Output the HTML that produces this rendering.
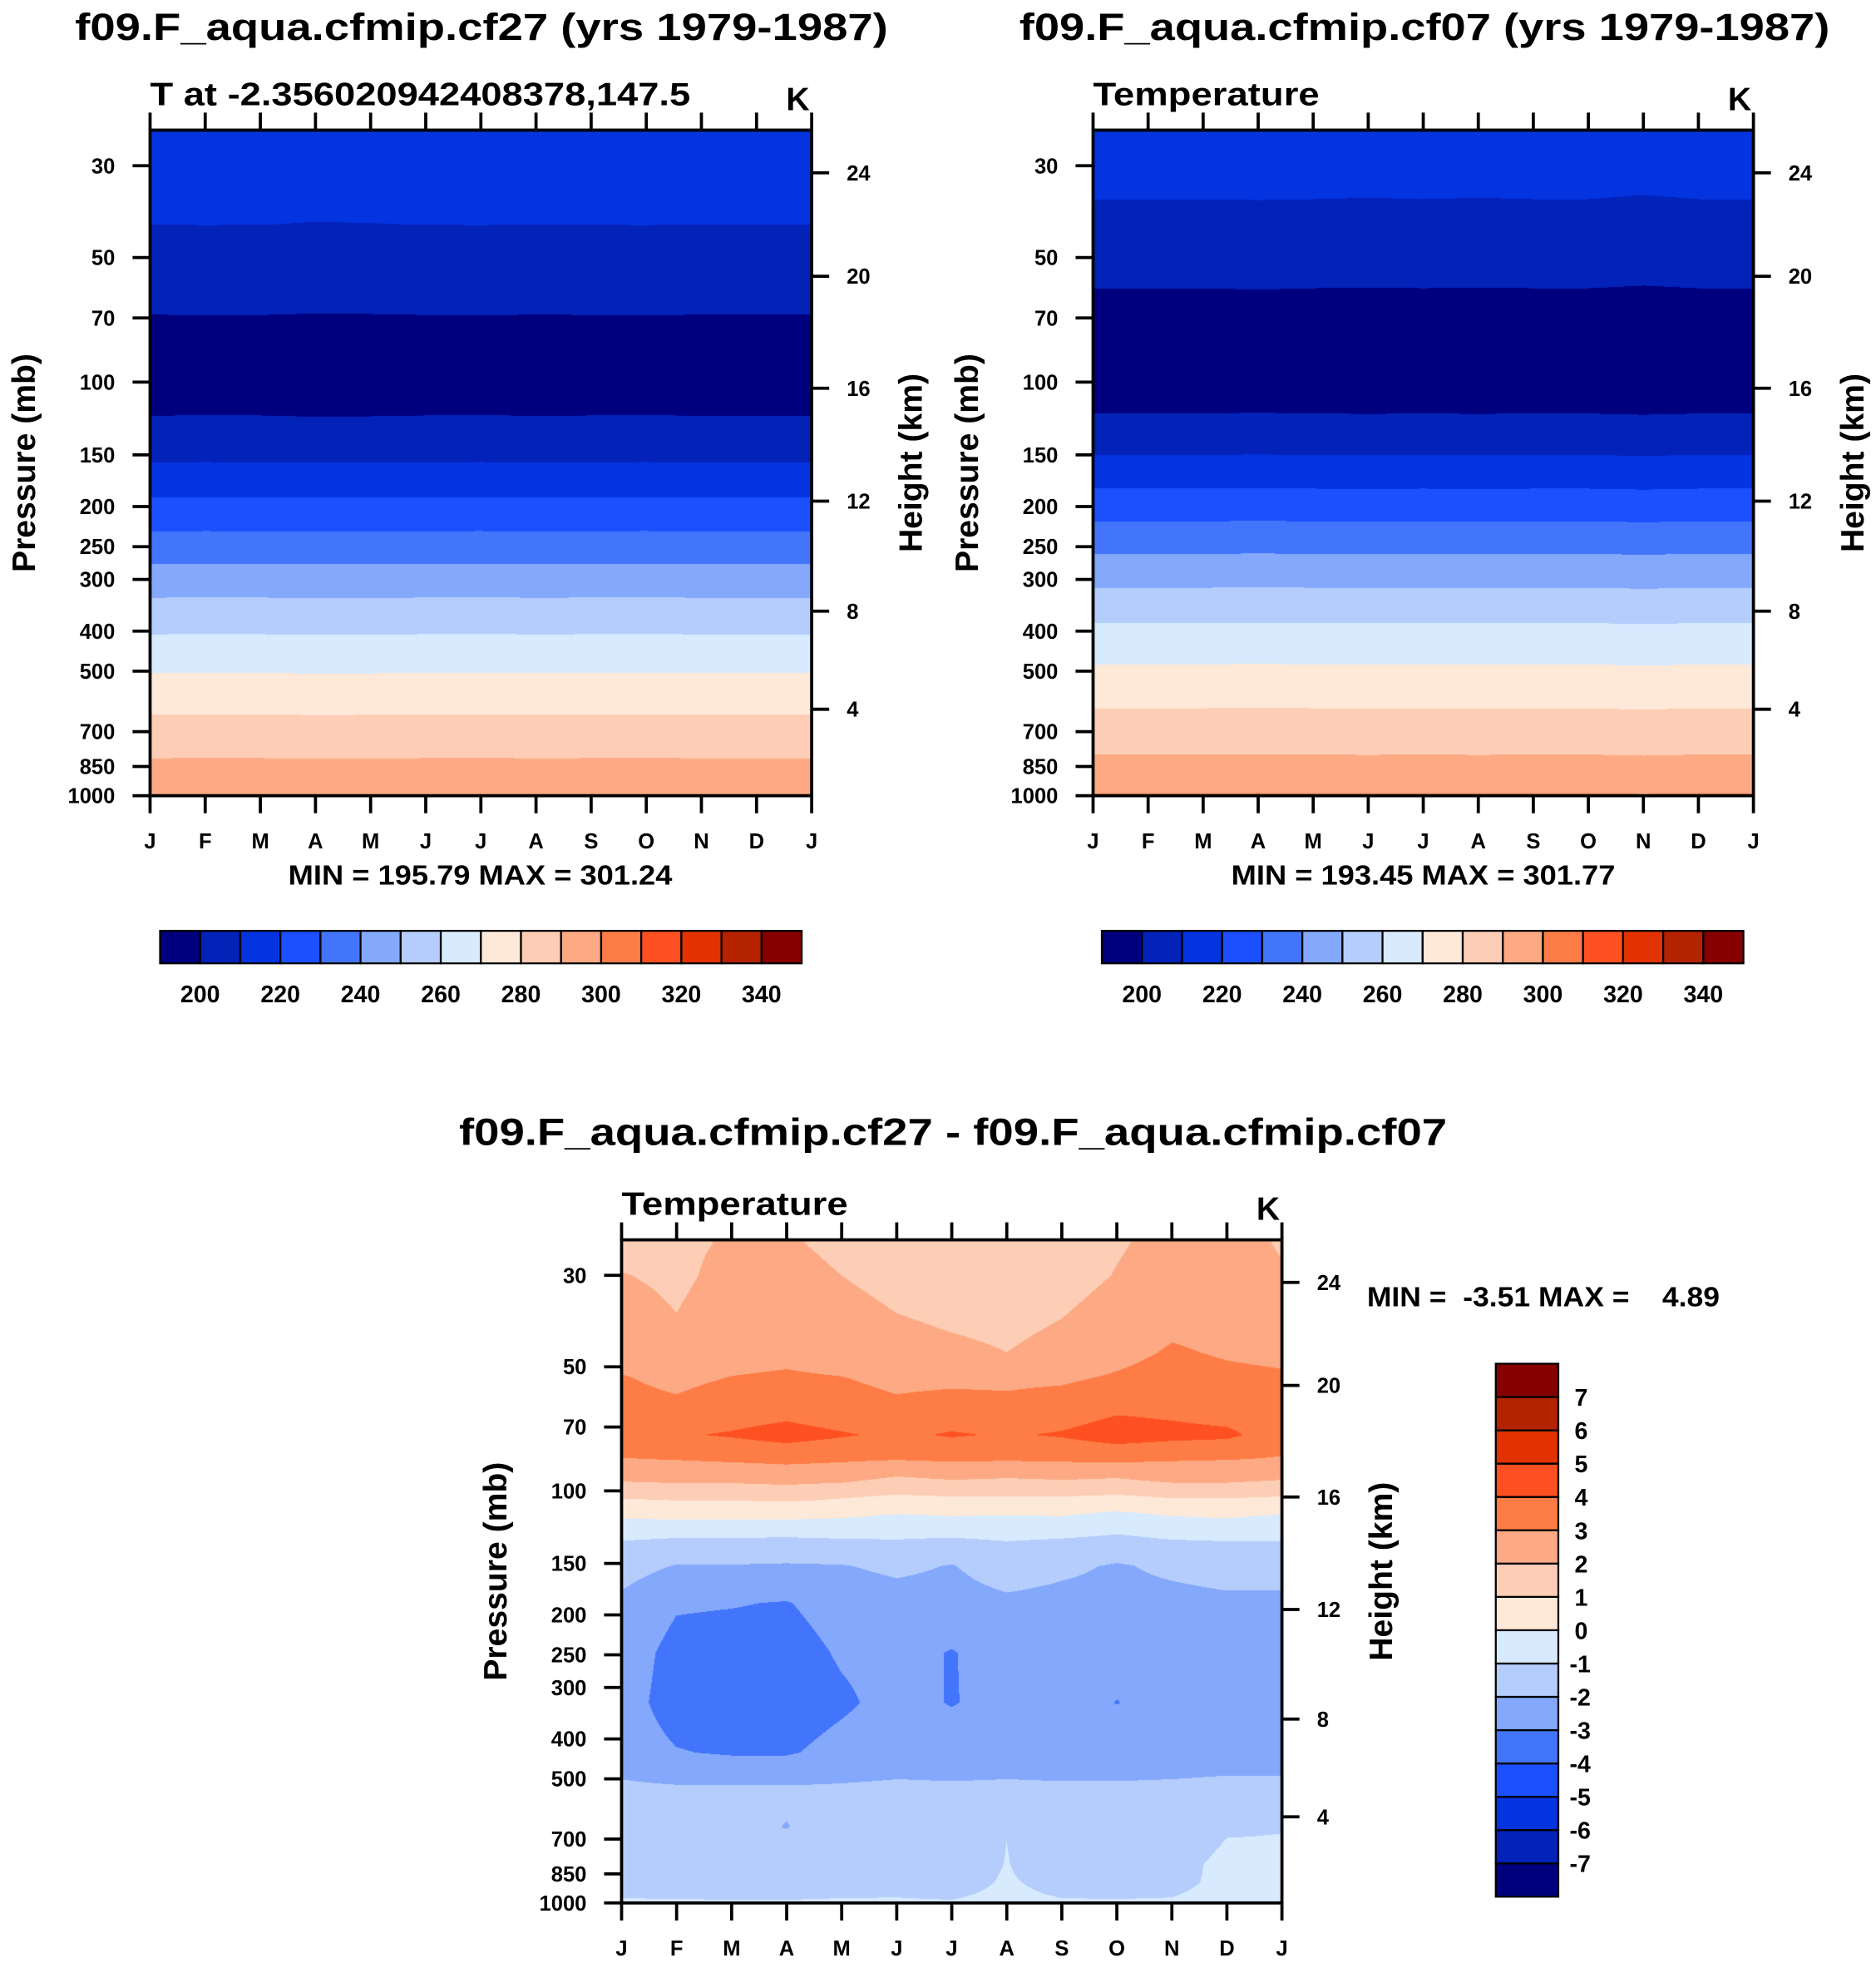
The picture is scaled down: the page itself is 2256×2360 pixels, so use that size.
<!DOCTYPE html>
<html><head><meta charset="utf-8">
<style>
html,body{margin:0;padding:0;background:#fff;}
#wrap{position:relative;width:2256px;height:2360px;overflow:hidden;}
canvas{position:absolute;}
svg{position:absolute;left:0;top:0;}
text{font-family:"Liberation Sans",Arial,sans-serif;font-weight:bold;fill:#000;}
</style></head>
<body>
<div id="wrap">
<canvas id="c1"></canvas>
<canvas id="c2"></canvas>
<canvas id="c3"></canvas>
<svg id="svg" width="2256" height="2360" viewBox="0 0 1500 1569" preserveAspectRatio="none"></svg>
</div>
<script>
// ---------- data ----------
const months = ["J","F","M","A","M","J","J","A","S","O","N","D","J"];
const tempLevels = [200,210,220,230,240,250,260,270,280,290,300,310,320,330,340];
const diffLevels = [-7,-6,-5,-4,-3,-2,-1,0,1,2,3,4,5,6,7];
const palette = ["#00007f","#0222b8","#0433e0","#1c4ffe","#4275fb","#84a8fb","#b4cdfd","#d8eafe","#fee8d8","#fdcdb5","#fca984","#fe7c45","#fe5021","#e13200","#b52200","#870000"];
const pressureTicks = [30,50,70,100,150,200,250,300,400,500,700,850,1000];
const heightTicks = [4,8,12,16,20,24];
const heightPressures = [618,358,194,103.5,55.5,31.2];

const p1Press = [24.5,41.6,68.7,90,120.9,156.5,190,229.6,275,332,407,505,636,811,1000];
const p1Temp  = [214,210,200,196,200,210,220,230,240,250,260,270,280,290,298];
const p1Offset = [0,0.1,0.05,-0.1,-0.05,0.05,0.1,0,0.05,0.1,0,0,0];

const p2Press = [24.5,36.2,59.4,90,119.2,150,181,217,260,314,382,481,614,794,986,1000];
const p2Temp  = [215,210,200,194,200,210,220,230,240,250,260,270,280,290,300,301.5];
const p2Offset = [0,0,0,0.1,0,-0.1,0,-0.1,0,0,-0.3,0,0];

const dPress = [25,30,37,46,53,64,73,84,93,103,115,132,152,187,247,326,431,531,654,806,895,1000];
const dRow0  = [1.6,1.8,2.1,2.1,1.8,1.5,1.4,1.4,1.5,1.9,2.3,2.4,1.9];
const dRow1  = [2.05,1.8,2.3,2.3,2.0,1.7,1.6,1.5,1.6,2.05,2.5,2.5,2.1];
const dRow2  = [2.4,2.0,2.5,2.5,2.3,2.0,1.8,1.7,1.95,2.4,2.7,2.6,2.4];
const dRow3  = [2.7,2.4,2.7,2.8,2.6,2.4,2.2,2.0,2.3,2.7,3.1,2.9,2.8];
const dRow4  = [3.05,2.8,3.02,3.1,3.02,2.8,2.8,2.8,2.85,3.1,3.4,3.2,3.1];
const dRow5  = [3.3,3.2,3.5,3.7,3.4,3.2,3.4,3.3,3.5,3.9,3.8,3.6,3.3];
const dRow6  = [3.5,3.9,4.1,4.4,4.1,3.8,4.1,3.9,4.1,4.5,4.3,4.2,3.5];
const dRow7  = [2.95,3.0,3.1,3.2,3.1,3.0,3.1,3.05,3.1,3.15,3.05,3.0,2.9];
const dRow8  = [2.2,2.3,2.3,2.4,2.3,1.9,2.1,2.0,2.1,2.0,2.3,2.3,2.1];
const dRow9  = [1.1,1.2,1.2,1.3,1.1,0.9,1.0,1.0,1.0,0.9,1.1,1.1,1.0];
const dRow10 = [0.1,0.2,0.2,0.2,0.1,-0.1,0,-0.05,0,-0.3,0,0.1,-0.1];
const dRow11 = [-1.0,-1.15,-1.15,-1.2,-1.1,-1.05,-1.15,-0.98,-1.1,-1.25,-1.05,-0.98,-0.98];
const dRow12 = [-1.6,-2.05,-2.05,-2.1,-2.05,-1.8,-2.05,-1.5,-1.8,-2.1,-1.8,-1.6,-1.6];
const dRow13 = [-2.2,-2.9,-2.95,-3.05,-2.6,-2.4,-2.4,-2.2,-2.3,-2.3,-2.3,-2.2,-2.2];
const dRow14 = [-2.5,-3.3,-3.4,-3.4,-2.9,-2.7,-3.05,-2.6,-2.6,-2.7,-2.6,-2.5,-2.5];
const dRow15 = [-2.6,-3.4,-3.5,-3.5,-3.15,-2.7,-3.05,-2.7,-2.7,-3.02,-2.7,-2.6,-2.6];
const dRow16 = [-2.5,-2.95,-3.1,-3.1,-2.7,-2.5,-2.5,-2.5,-2.5,-2.5,-2.5,-2.4,-2.4];
const dRow17 = [-1.8,-1.85,-1.85,-1.85,-1.85,-1.8,-1.85,-1.8,-1.85,-1.85,-1.8,-1.75,-1.75];
const dRow18 = [-1.3,-1.6,-1.7,-2.03,-1.6,-1.5,-1.5,-1.01,-1.5,-1.5,-1.4,-1.06,-1.02];
const dRow19 = [-1.15,-1.3,-1.35,-1.35,-1.3,-1.2,-1.3,-0.98,-1.3,-1.3,-1.2,-0.85,-0.9];
const dRow20 = [-1.12,-1.15,-1.15,-1.15,-1.12,-1.1,-1.15,-0.95,-1.12,-1.15,-1.1,-0.9,-0.95];
const dRow21 = [-0.96,-0.96,-0.97,-0.97,-0.96,-0.96,-0.97,-0.9,-0.96,-0.96,-0.96,-0.85,-0.85];
const dGrid = [dRow0,dRow1,dRow2,dRow3,dRow4,dRow5,dRow6,dRow7,dRow8,dRow9,dRow10,dRow11,dRow12,dRow13,dRow14,dRow15,dRow16,dRow17,dRow18,dRow19,dRow20,dRow21];

// ---------- geometry ----------
const SX = 2256/1500, SY = 2360/1569;
const P_TOP = 24.6;
const plots = [
  {x0:120,x1:649,y0:104,y1:636},
  {x0:874,x1:1402,y0:104,y1:636},
  {x0:497,x1:1025,y0:991,y1:1521}
];
function yOf(pl,p){ return pl.y1 - Math.log(1000/p)/Math.log(1000/P_TOP)*(pl.y1-pl.y0); }
function xOf(pl,m){ return pl.x0 + m/12*(pl.x1-pl.x0); }

function gridFromProfile(press,temp,off){
  return press.map((p,i)=>off.map(o=>temp[i]+o));
}
function interp(lps,grid,m,lp){
  let r=0;
  if(lp<=lps[0]) r=0; else if(lp>=lps[lps.length-1]) r=lps.length-2;
  else { while(r<lps.length-2 && lps[r+1]<lp) r++; }
  let t=(lp-lps[r])/(lps[r+1]-lps[r]); t=Math.max(0,Math.min(1,t));
  let c=Math.floor(m); if(c>=12) c=11; if(c<0)c=0;
  let u=m-c; u=Math.max(0,Math.min(1,u));
  const a=grid[r][c]*(1-u)+grid[r][c+1]*u;
  const b=grid[r+1][c]*(1-u)+grid[r+1][c+1]*u;
  return a*(1-t)+b*t;
}
function bandIndex(v,levels){ let k=0; while(k<levels.length && v>=levels[k]) k++; return k; }
function hexRGB(h){ return [parseInt(h.substr(1,2),16),parseInt(h.substr(3,2),16),parseInt(h.substr(5,2),16)]; }
const palRGB = palette.map(hexRGB);

function renderFill(id,pl,press,grid,levels){
  const cv=document.getElementById(id);
  const L=Math.round(pl.x0*SX), T=Math.round(pl.y0*SY);
  const W=Math.round(pl.x1*SX)-L, H=Math.round(pl.y1*SY)-T;
  cv.width=W; cv.height=H; cv.style.left=L+'px'; cv.style.top=T+'px';
  const ctx=cv.getContext('2d'); const img=ctx.createImageData(W,H);
  const lps=press.map(p=>Math.log(p));
  const lpTop=Math.log(P_TOP), lpBot=Math.log(1000);
  for(let j=0;j<H;j++){
    const lp=lpTop+(j+0.5)/H*(lpBot-lpTop);
    for(let i=0;i<W;i++){
      const m=(i+0.5)/W*12;
      const v=interp(lps,grid,m,lp);
      const c=palRGB[bandIndex(v,levels)];
      const k=(j*W+i)*4; img.data[k]=c[0]; img.data[k+1]=c[1]; img.data[k+2]=c[2]; img.data[k+3]=255;
    }
  }
  ctx.putImageData(img,0,0);
}
renderFill('c1',plots[0],p1Press,gridFromProfile(p1Press,p1Temp,p1Offset),tempLevels);
renderFill('c2',plots[1],p2Press,gridFromProfile(p2Press,p2Temp,p2Offset),tempLevels);
renderFill('c3',plots[2],dPress,dGrid,diffLevels);

// ---------- SVG overlay ----------
const svg=document.getElementById('svg');
const NS='http://www.w3.org/2000/svg';
function mk(tag,attrs,parent){ const e=document.createElementNS(NS,tag); for(const k in attrs) e.setAttribute(k,attrs[k]); (parent||svg).appendChild(e); return e; }
function txt(s,x,y,size,anchor,parent,extra){ const e=mk('text',Object.assign({x:x,y:y,'font-size':size,'text-anchor':anchor||'start'},extra||{}),parent); e.textContent=s; return e; }

function axes(pl,idx,title,titleX,titleLen,sub,subLen,minmax,minmaxX){
  const g=mk('g',{});
  
  
  const tt=txt(title,titleX,32+ (idx==2?883:0),30,'middle',g,{textLength:titleLen,lengthAdjust:'spacingAndGlyphs'});
  
  
  const st=txt(sub,pl.x0,pl.y0-20,26,'start',g,{textLength:subLen,lengthAdjust:'spacingAndGlyphs'});
  
  
  const ku=txt('K',pl.x1-11,pl.y0-16,26,'middle',g);
  
  
  const fr=mk('rect',{x:pl.x0,y:pl.y0,width:pl.x1-pl.x0,height:pl.y1-pl.y0,fill:'none',stroke:'#000','stroke-width':2.5},g);
  
  
  pressureTicks.forEach(p=>{
    const y=yOf(pl,p);
    mk('line',{x1:pl.x0-14,x2:pl.x0,y1:y,y2:y,stroke:'#000','stroke-width':2.5},g);
    const t=txt(String(p),pl.x0-28,y+6,17,'end',g);
    
    
  });
  heightTicks.forEach((h,i)=>{
    const y=yOf(pl,heightPressures[i]);
    mk('line',{x1:pl.x1,x2:pl.x1+14,y1:y,y2:y,stroke:'#000','stroke-width':2.5},g);
    const t=txt(String(h),pl.x1+28,y+6,17,'start',g);
    
    
  });
  months.forEach((m,i)=>{
    const x=xOf(pl,i);
    mk('line',{x1:x,x2:x,y1:pl.y1,y2:pl.y1+14,stroke:'#000','stroke-width':2.5},g);
    mk('line',{x1:x,x2:x,y1:pl.y0-14,y2:pl.y0,stroke:'#000','stroke-width':2.5},g);
    const t=txt(m,x,pl.y1+42,17,'middle',g);
    
    
  });
  const cy=(pl.y0+pl.y1)/2;
  const lx=pl.x0-92, rx=pl.x1+88;
  const pt=txt('Pressure (mb)',lx,cy,26,'middle',g,{transform:'rotate(-90 '+lx+' '+cy+')'});
  
  
  const ht=txt('Height (km)',rx,cy,26,'middle',g,{transform:'rotate(-90 '+rx+' '+cy+')'});
  
  
  if(minmax){
    const mm=txt(minmax,minmaxX,pl.y1+71,22,'middle',g,{textLength:307,lengthAdjust:'spacingAndGlyphs'});
    
    
  }
}
axes(plots[0],0,'f09.F_aqua.cfmip.cf27 (yrs 1979-1987)',385,650,'T at -2.356020942408378,147.5',432,'MIN = 195.79 MAX = 301.24',384);
axes(plots[1],1,'f09.F_aqua.cfmip.cf07 (yrs 1979-1987)',1139,648,'Temperature',181,'MIN = 193.45 MAX = 301.77',1138);
axes(plots[2],2,'f09.F_aqua.cfmip.cf27 - f09.F_aqua.cfmip.cf07',762,790,'Temperature',181,null,0);
const mm3=txt('MIN =  -3.51 MAX =    4.89',1093,1044,22,'start',null,{textLength:282,lengthAdjust:'spacingAndGlyphs',style:'white-space:pre'});



function hbar(x0,x1,y0,y1,idx){
  const g=mk('g',{});
  
  
  const w=(x1-x0)/palette.length;
  palette.forEach((c,i)=>{
    const r=mk('rect',{x:x0+i*w,y:y0,width:w,height:y1-y0,fill:c,stroke:'#000','stroke-width':1.5},g);
    
    
  });
  tempLevels.forEach((v,i)=>{
    if(i%2==0){
      const t=txt(String(v),x0+(i+1)*w,y1+31,19,'middle',g);
      
      
    }
  });
}
hbar(128,641,744,770,1);
hbar(881,1394,744,770,2);
(function(){
  const x0=1196,x1=1246,y0=1090,y1=1516;
  const g=mk('g',{});
  
  
  const h=(y1-y0)/palette.length;
  palette.forEach((c,i)=>{
    const r=mk('rect',{x:x0,y:y1-(i+1)*h,width:x1-x0,height:h,fill:c,stroke:'#000','stroke-width':1.5},g);
    
    
  });
  diffLevels.forEach((v,i)=>{
    const y=y1-(i+1)*h;
    const t=txt(String(v),v<0?1255:1259,y+7,19,'start',g);
    
    
  });
})();
</script>
</body></html>
